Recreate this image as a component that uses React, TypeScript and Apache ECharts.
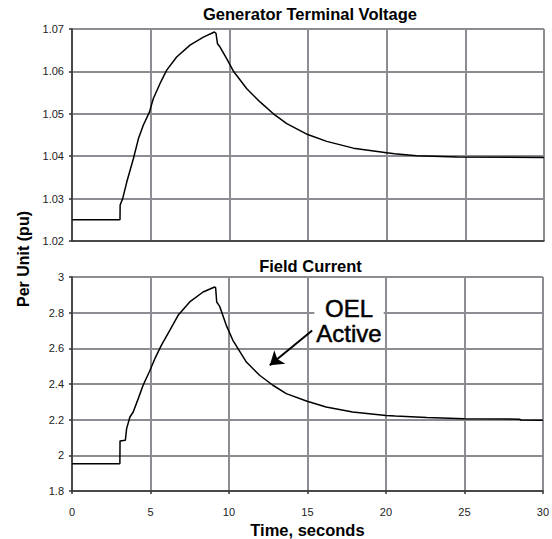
import React, { useEffect, useRef } from "react";
import * as echarts from "echarts";

// Generator terminal voltage response (time in s, voltage in pu)
const voltageTime = [
  0, 3.05, 3.06, 3.22, 3.48, 3.9, 4.22, 4.53, 4.92, 5.17, 5.59, 6.02, 6.65, 7.5,
  8.35, 9.05, 9.15, 9.25, 9.4, 9.83, 10.25, 11.11, 11.95, 12.8, 13.65, 14.98,
  16.19, 17.88, 20.0, 20.5, 21.9, 24.5, 30,
];
const voltageValues = [
  1.025, 1.025, 1.0285, 1.03, 1.0339, 1.0394, 1.0441, 1.0473, 1.0504, 1.0536,
  1.0571, 1.0603, 1.0634, 1.0662, 1.0681, 1.0693, 1.069, 1.0665, 1.0658, 1.063,
  1.0601, 1.0559, 1.0528, 1.05, 1.0477, 1.0451, 1.0435, 1.0419, 1.0408, 1.0406,
  1.0401, 1.0398, 1.0397,
];

// Field current response (time in s, current in pu)
const currentTime = [
  0, 3.05, 3.06, 3.4, 3.48, 3.69, 3.9, 4.22, 4.53, 4.92, 5.28, 5.69, 6.23, 6.76,
  7.5, 8.35, 9.09, 9.15, 9.22, 9.41, 9.83, 10.25, 11.11, 11.95, 12.8, 13.65,
  14.98, 16.19, 17.88, 20.0, 20.6, 22.6, 25.0, 28.5, 28.6, 30,
];
const currentValues = [
  1.953, 1.953, 2.08, 2.085, 2.15, 2.215, 2.243, 2.318, 2.393, 2.467, 2.542,
  2.617, 2.701, 2.785, 2.86, 2.916, 2.944, 2.94, 2.86, 2.835, 2.729, 2.645,
  2.523, 2.449, 2.393, 2.346, 2.303, 2.271, 2.243, 2.224, 2.22, 2.212, 2.205,
  2.203, 2.198, 2.197,
];

// Tick values of the axes
const timeTickValues = [0, 5, 10, 15, 20, 25, 30];
const voltageTickValues = [1.02, 1.03, 1.04, 1.05, 1.06, 1.07];
const currentTickValues = [1.8, 2, 2.2, 2.4, 2.6, 2.8, 3];

// OEL annotation arrow: tail and tip in (s, pu)
const arrowTail = [15.3, 2.7];
const arrowTip = [12.6, 2.505];

const FONT = '"Liberation Sans", Arial, sans-serif';
const GRID_COLOR = "rgb(140,140,146)";

const zip = (xs: number[], ys: number[]) => xs.map((x, i) => [x, ys[i]]);
const first = (a: number[]) => a[0];
const last = (a: number[]) => a[a.length - 1];

const gridLines = () => ({
  show: true,
  lineStyle: { color: GRID_COLOR, width: 2 },
});
const axisLine = () => ({ show: true, lineStyle: { color: "#333", width: 1.5 } });
const axisTick = () => ({ show: true, length: 3, lineStyle: { color: "#333", width: 1.5 } });
const tickLabel = (margin: number) => ({ fontFamily: FONT, fontSize: 11, color: "#222", margin });

export default function App() {
  const ref = useRef<HTMLDivElement>(null);

  useEffect(() => {
    if (!ref.current) return;
    const chart = echarts.init(ref.current, null, { renderer: "svg" });

    const timeRange = { min: first(timeTickValues), max: last(timeTickValues), interval: 5 };

    chart.setOption({
      animation: false,
      backgroundColor: "#fff",
      grid: [
        { left: 72, top: 29, right: 8, height: 212 },
        { left: 72, top: 277, right: 8, height: 214 },
      ],
      xAxis: [
        {
          type: "value", gridIndex: 0, ...timeRange,
          axisLine: axisLine(), axisTick: { show: false }, axisLabel: { show: false },
          splitLine: gridLines(),
        },
        {
          type: "value", gridIndex: 1, ...timeRange,
          axisLine: axisLine(), axisTick: axisTick(), axisLabel: tickLabel(15),
          splitLine: gridLines(),
          name: "Time, seconds", nameLocation: "middle", nameGap: 30,
          nameTextStyle: { fontFamily: FONT, fontSize: 16.5, fontWeight: "bold", color: "#000" },
        },
      ],
      yAxis: [
        {
          type: "value", gridIndex: 0,
          min: first(voltageTickValues), max: last(voltageTickValues), interval: 0.01,
          axisLine: axisLine(), axisTick: axisTick(), axisLabel: tickLabel(8),
          splitLine: gridLines(),
        },
        {
          type: "value", gridIndex: 1,
          min: first(currentTickValues), max: last(currentTickValues), interval: 0.2,
          axisLine: axisLine(), axisTick: axisTick(), axisLabel: tickLabel(8),
          splitLine: gridLines(),
        },
      ],
      series: [
        {
          type: "line", xAxisIndex: 0, yAxisIndex: 0, z: 5,
          data: zip(voltageTime, voltageValues),
          showSymbol: false, lineStyle: { color: "#000", width: 1.5 },
        },
        {
          type: "line", xAxisIndex: 1, yAxisIndex: 1, z: 5,
          data: zip(currentTime, currentValues),
          showSymbol: false, lineStyle: { color: "#000", width: 1.5 },
          markLine: {
            silent: true,
            symbol: ["none", "arrow"],
            symbolSize: 13,
            label: { show: false },
            lineStyle: { color: "#000", width: 2, type: "solid" },
            data: [[{ coord: arrowTail }, { coord: arrowTip }]],
          },
        },
      ],
      graphic: [
        {
          type: "text", x: 310, y: 14,
          style: { text: "Generator Terminal Voltage", font: `bold 16.5px ${FONT}`, fill: "#000", textAlign: "center", textVerticalAlign: "middle" },
        },
        {
          type: "text", x: 310.5, y: 266,
          style: { text: "Field Current", font: `bold 16.5px ${FONT}`, fill: "#000", textAlign: "center", textVerticalAlign: "middle" },
        },
        {
          type: "text", x: 23.5, y: 259, rotation: Math.PI / 2,
          style: { text: "Per Unit (pu)", font: `bold 16px ${FONT}`, fill: "#000", textAlign: "center", textVerticalAlign: "middle" },
        },
        {
          type: "text", x: 349, y: 296, z: 10,
          style: {
            text: "OEL\nActive", font: `24px ${FONT}`, fill: "#000", stroke: "#000", lineWidth: 0.5,
            lineHeight: 25, textAlign: "center", textVerticalAlign: "top",
            backgroundColor: "#fff", padding: [0, 2],
          },
        },
      ],
    });

    return () => chart.dispose();
  }, []);

  return <div ref={ref} style={{ position: "fixed", left: 0, top: 0, width: 552, height: 539 }} />;
}
